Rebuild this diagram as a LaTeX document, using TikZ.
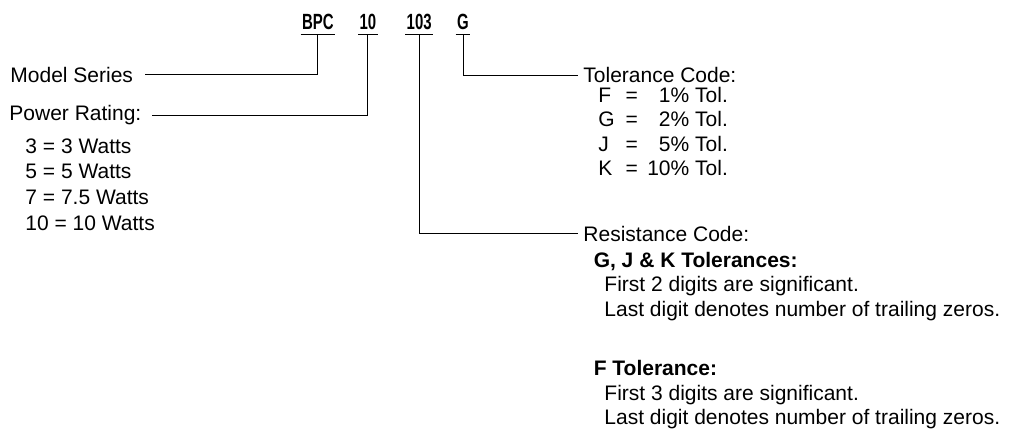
\documentclass[tikz,border=0pt]{standalone}
\usepackage{fontspec}
\setmainfont{Liberation Sans}
\newfontfamily\hdrfont[FakeStretch=0.68]{Liberation Sans}
\usetikzlibrary{calc}
\newcommand\lblsize{\fontsize{21pt}{25pt}\selectfont}

\begin{document}
\begin{tikzpicture}[x=1pt,y=-1pt,line width=0.9pt,
  code/.style={font=\hdrfont\bfseries\fontsize{22pt}{26pt}\selectfont,anchor=base,inner ysep=0pt,inner xsep=1pt,text depth=5.2pt},
  lbl/.style={font=\lblsize,anchor=base west,inner sep=0pt},
  sub/.style={font=\lblsize\bfseries,anchor=base west,inner sep=0pt}]
  \useasboundingbox (0,0) rectangle (1013,433);
  % part number
  \node[code] (cBPC) at (317.8,29.3) {BPC};
  \node[code] (c10) at (367.9,29.3) {10};
  \node[code] (c103) at (419.2,29.3) {103};
  \node[code] (cG) at (463,29.3) {G};
  \foreach \n in {cBPC,c10,c103,cG}
    \draw (\n.south west)--(\n.south east);
  % left labels
  \node[lbl] (series) at (10,82.3) {Model Series};
  \node[lbl] (power) at (9,121) {Power Rating:};
  \foreach \w/\t [count=\i] in {3/3,5/5,7/7.5,10/10}
    \node[lbl] (pw\i) at (25,{153.4+25.6*(\i-1)}) {\w\ = \t\ Watts};
  % tolerance code
  \node[lbl] (tolcode) at (583,82.7) {Tolerance Code:};
  \foreach \c/\p [count=\i] in {F/1,G/2,J/5,K/10}{
    \node[lbl] (tk\i) at (598,{102.6+24.3*(\i-1)}) {\c};
    \node[lbl,anchor=base] (te\i) at (631.7,{102.6+24.3*(\i-1)}) {=};
    \node[lbl,anchor=base east] (tp\i) at (728.3,{102.6+24.3*(\i-1)}) {\p\% Tol.};
  }
  % resistance code
  \node[lbl] (rescode) at (583,241) {Resistance Code:};
  \node[sub] (gjk) at (593.3,267.7) {G, J \& K Tolerances:};
  \node[lbl] (gjk1) at (604,291.8) {First 2 digits are significant.};
  \node[lbl] (gjk2) at (604,316.2) {Last digit denotes number of trailing zeros.};
  \node[sub] (ftol) at (593.3,375.5) {F Tolerance:};
  \node[lbl] (ftol1) at (604,400) {First 3 digits are significant.};
  \node[lbl] (ftol2) at (604,424.6) {Last digit denotes number of trailing zeros.};
  % leaders
  \draw (cBPC.south) |- ([xshift=12pt]series.east);
  \draw (c10.south) |- ([xshift=10pt]power.east);
  \draw (cG.south) |- ([xshift=-5pt]tolcode.west);
  \draw (c103.south) |- ([xshift=-5pt]rescode.west);
\end{tikzpicture}
\end{document}
